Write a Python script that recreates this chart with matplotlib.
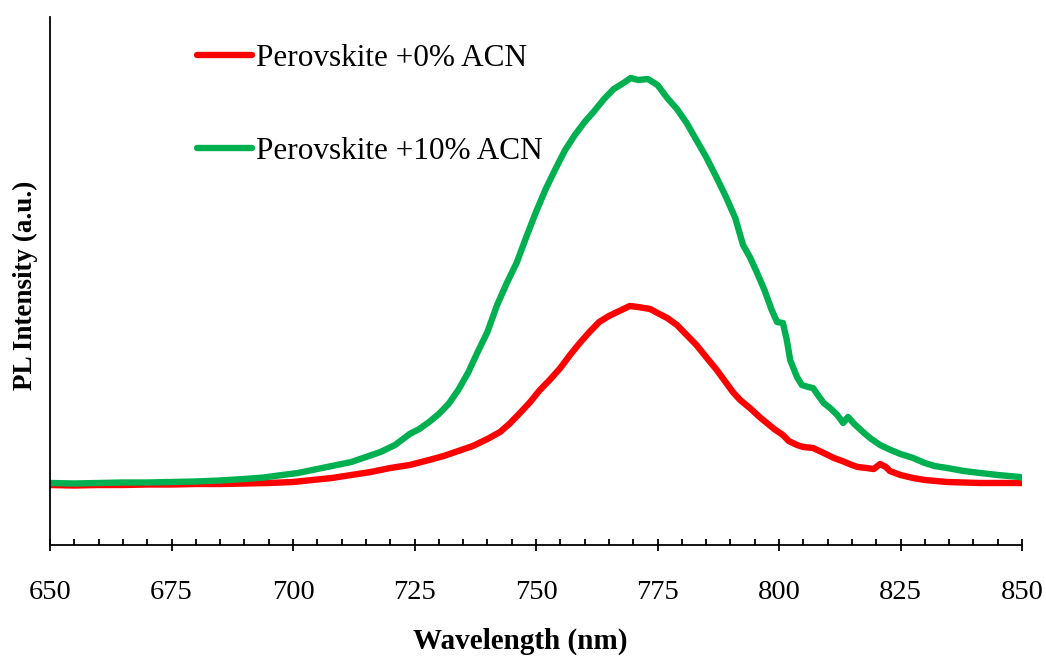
import matplotlib.pyplot as plt
from matplotlib.ticker import MultipleLocator

# wavelength (nm) and PL intensity (a.u.)
wl_0 = [650, 655, 660, 665, 670, 675, 680, 685, 690, 695, 700, 704, 708, 712, 716,
        720, 724, 728, 731, 734, 737, 740, 742.6, 744.5, 746.7, 748.8, 750.8, 753,
        755, 757, 759, 761, 763, 765, 766.7, 768, 769.3, 771, 773.5, 775, 777, 779,
        781, 783, 785, 787.2, 789, 790.5, 792, 794, 796, 797.5, 799, 800.8, 802,
        803.7, 805, 807, 809.2, 811.3, 813, 815, 816.2, 818, 819.5, 820.8, 822,
        822.8, 825, 827.6, 830, 834.6, 838, 841.4, 845, 850]
pl_0 = [60, 59.5, 60, 60, 60.5, 60.5, 61, 61, 61.5, 62, 63, 65, 67, 70, 73,
        77, 80, 85, 89, 94, 99, 106, 113, 121, 132, 143, 155, 166,
        177, 190, 202, 213, 223, 229, 233, 236, 239, 238, 236, 232, 227, 220,
        210, 200, 188, 175, 163, 153, 145, 137, 128, 122, 116, 110, 104,
        100, 98, 97, 92, 87, 84, 80, 78, 77, 76, 81, 78,
        74, 70, 67, 65, 63, 62.5, 62, 62, 62]

wl_10 = [650, 655, 660, 665, 670, 675, 680, 685, 690, 694, 697, 701, 705, 708, 712,
         715, 718, 721, 724, 726, 728, 730, 732, 734, 736, 738, 740, 742, 744, 746,
         748, 750, 752, 754, 756, 758, 760, 762, 764, 766, 768, 769.5, 771, 773,
         775, 777, 779, 781, 783, 785, 787, 789, 791, 792.6, 794, 795.5, 797, 798.5,
         799.6, 800.8, 801.6, 802.3, 803.7, 804.7, 806, 807, 808, 809.2, 810.5, 812,
         813.2, 814.2, 815.5, 817.5, 819, 820.8, 823, 825, 827.6, 830, 832, 834.6,
         838, 841.4, 845, 849.6, 850]
pl_10 = [62, 61.5, 62, 62.5, 62.5, 63, 63.5, 64.5, 66, 67.5, 69.5, 72, 76, 79, 83,
         88, 93, 100, 111, 116, 123, 131, 141, 155, 172, 193, 213, 240, 262, 282,
         308, 333, 356, 376, 395, 410, 423, 434, 446, 456, 462, 467, 465, 466,
         460, 447, 436, 422, 405, 388, 369, 349, 327, 300, 288, 272, 255, 235,
         223, 222, 205, 185, 168, 160, 158, 157, 150, 142, 137, 130,
         122, 128, 121, 112, 106, 100, 95, 91, 87, 82, 79, 77,
         74, 72, 70, 68, 67]

plt.rcParams["font.family"] = ["Liberation Serif", "DejaVu Serif"]

fig = plt.figure(figsize=(10.46, 6.6), dpi=100)
ax = fig.add_axes([50 / 1046, 1 - 545 / 660, 972 / 1046, 528 / 660])

ax.plot(wl_0, pl_0, color="#FF0000", lw=4.6, solid_capstyle="round",
        solid_joinstyle="round", label="Perovskite +0% ACN")
ax.plot(wl_10, pl_10, color="#00B050", lw=4.6, solid_capstyle="round",
        solid_joinstyle="round", label="Perovskite +10% ACN")

ax.set_xlim(650, 850)
ax.set_ylim(0, 528)
ax.xaxis.set_major_locator(MultipleLocator(25))
ax.xaxis.set_minor_locator(MultipleLocator(5))
ax.tick_params(axis="x", which="major", direction="inout", length=9, width=1.3,
               pad=21, labelsize=20.5)
ax.tick_params(axis="x", which="minor", direction="in", length=4.5, width=1.3)
ax.set_yticks([])
for s in ["top", "right"]:
    ax.spines[s].set_visible(False)
for s in ["left", "bottom"]:
    ax.spines[s].set_linewidth(1.3)

ax.set_xlabel("Wavelength (nm)", fontsize=21, fontweight="bold")
ax.xaxis.set_label_coords((520 - 50) / 972, (545 - 628) / 528)
ax.set_ylabel("PL Intensity (a.u.)", fontsize=19.5, fontweight="bold")
ax.yaxis.set_label_coords((38 - 50) / 972, (545 - 285) / 528)

ax.legend(loc="upper left", bbox_to_anchor=(197 / 1046, 1 - 44 / 660),
          bbox_transform=fig.transFigure, frameon=False, fontsize=22.5,
          handlelength=1.75, handletextpad=0.15, labelspacing=2.05,
          borderpad=0, borderaxespad=0)

fig.savefig("out.png", dpi=100)
